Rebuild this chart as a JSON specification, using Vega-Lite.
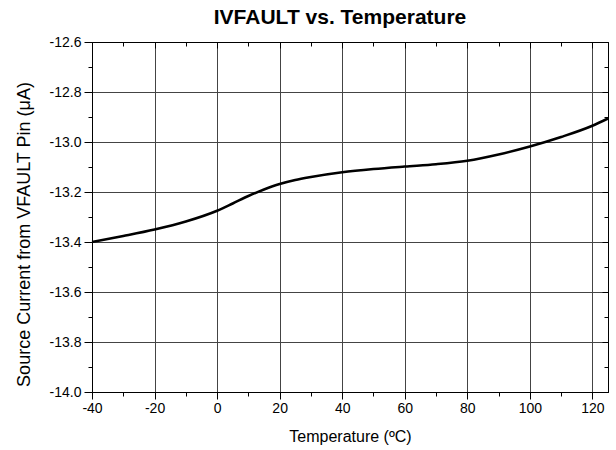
{
  "$schema": "https://vega.github.io/schema/vega-lite/v6.json",
  "autosize": {"type": "none"},
  "padding": {"left": 92, "top": 42, "right": 8, "bottom": 58},
  "width": 516,
  "height": 350,
  "background": "white",
  "config": {
    "font": "Liberation Sans",
    "view": {"stroke": "black", "strokeWidth": 1},
    "axis": {"domainColor": "black", "tickColor": "black", "labelColor": "black", "titleColor": "black", "labelFont": "Liberation Sans", "titleFont": "Liberation Sans", "titleFontWeight": "normal"}
  },
  "title": {"text": "IVFAULT vs. Temperature", "fontSize": 21, "fontWeight": "bold", "font": "Liberation Sans", "offset": 7, "dx": -10, "color": "black"},
  "data": {"values": [
    {"t": -40, "i": -13.400},
    {"t": -30, "i": -13.376},
    {"t": -20, "i": -13.350},
    {"t": -10, "i": -13.318},
    {"t": 0, "i": -13.275},
    {"t": 5, "i": -13.246},
    {"t": 10, "i": -13.216},
    {"t": 15, "i": -13.190},
    {"t": 20, "i": -13.168},
    {"t": 25, "i": -13.152},
    {"t": 30, "i": -13.140},
    {"t": 40, "i": -13.121},
    {"t": 50, "i": -13.108},
    {"t": 60, "i": -13.098},
    {"t": 70, "i": -13.089},
    {"t": 80, "i": -13.075},
    {"t": 90, "i": -13.050},
    {"t": 100, "i": -13.018},
    {"t": 110, "i": -12.980},
    {"t": 120, "i": -12.935},
    {"t": 125, "i": -12.906}
  ]},
  "resolve": {"axis": {"x": "independent", "y": "independent"}},
  "layer": [
    {
      "mark": {"type": "line", "color": "black", "strokeWidth": 2.5, "interpolate": "monotone"},
      "encoding": {
        "x": {"field": "t", "type": "quantitative",
          "scale": {"domain": [-40, 125], "nice": false, "zero": false},
          "axis": {"orient": "bottom", "title": "Temperature (\u00baC)", "titleFontSize": 16, "titlePadding": 13,
            "values": [-40, -30, -20, -10, 0, 10, 20, 30, 40, 50, 60, 70, 80, 90, 100, 110, 120],
            "labelExpr": "datum.value % 20 == 0 ? replace(format(datum.value, 'd'), '\u2212', '-') : ''",
            "labelFontSize": 14, "labelPadding": 2, "labelFlush": false,
            "tickSize": {"expr": "datum.value % 20 == 0 ? 7 : 4"},
            "grid": true, "gridColor": "#444", "gridOpacity": {"expr": "datum.value % 20 == 0 ? 1 : 0"},
            "domainColor": "black"}},
        "y": {"field": "i", "type": "quantitative",
          "scale": {"domain": [-14.0, -12.6], "nice": false, "zero": false},
          "axis": {"orient": "left", "title": "Source Current from VFAULT Pin (\u03bcA)", "titleFontSize": 18, "titlePadding": 16, "titleY": 192,
            "values": [-14.0, -13.9, -13.8, -13.7, -13.6, -13.5, -13.4, -13.3, -13.2, -13.1, -13.0, -12.9, -12.8, -12.7, -12.6],
            "labelExpr": "round(datum.value * 10) % 2 == 0 ? replace(format(datum.value, '.1f'), '\u2212', '-') : ''",
            "labelFontSize": 14, "labelPadding": 3,
            "tickSize": {"expr": "round(datum.value * 10) % 2 == 0 ? 8 : 4"},
            "grid": true, "gridColor": "#444", "gridOpacity": {"expr": "round(datum.value * 10) % 2 == 0 ? 1 : 0"}}}
      }
    },
    {
      "mark": {"type": "line", "opacity": 0},
      "encoding": {
        "x": {"field": "t", "type": "quantitative",
          "axis": {"orient": "top", "title": null, "labels": false, "grid": false,
            "values": [-40, -30, -20, -10, 0, 10, 20, 30, 40, 50, 60, 70, 80, 90, 100, 110, 120],
            "tickSize": {"expr": "datum.value % 20 == 0 ? -6 : -4"}}},
        "y": {"field": "i", "type": "quantitative",
          "axis": {"orient": "right", "title": null, "labels": false, "grid": false,
            "values": [-14.0, -13.9, -13.8, -13.7, -13.6, -13.5, -13.4, -13.3, -13.2, -13.1, -13.0, -12.9, -12.8, -12.7, -12.6],
            "tickSize": {"expr": "round(datum.value * 10) % 2 == 0 ? -6 : -4"}}}
      }
    }
  ]
}
